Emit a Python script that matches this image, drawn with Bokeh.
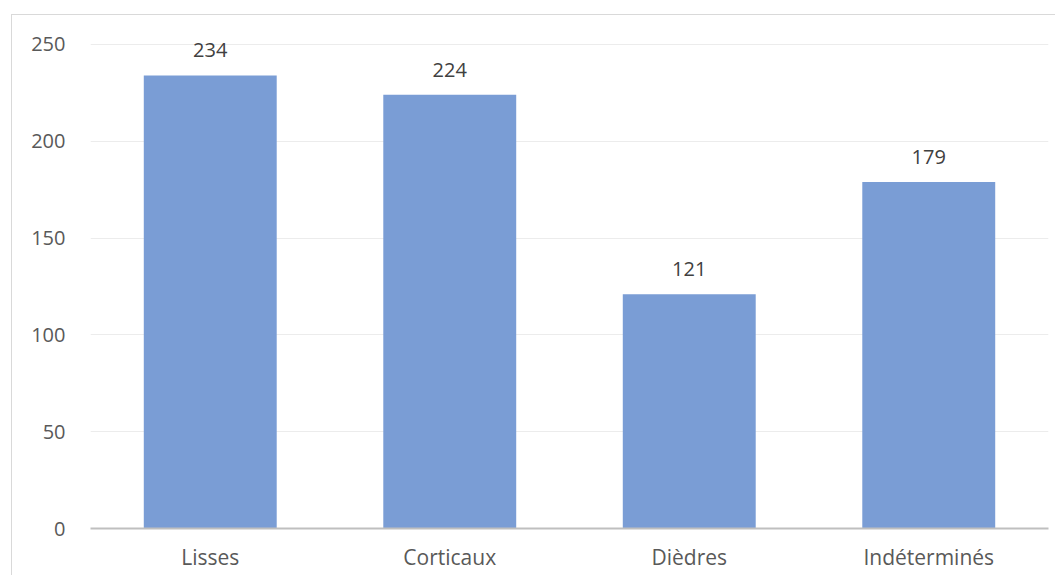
from bokeh.plotting import figure
from bokeh.models import ColumnDataSource, Range1d, FixedTicker
from bokeh.core.properties import value
from bokeh.embed import file_html
from bokeh.resources import INLINE

categories = ["Lisses", "Corticaux", "Dièdres", "Indéterminés"]
counts = [234, 224, 121, 179]
y_ticks = [0, 50, 100, 150, 200, 250]

FONT = "Open Sans"

src = ColumnDataSource(dict(cat=categories, val=counts, lab=[str(v) for v in counts]))

p = figure(x_range=categories, y_range=Range1d(0, 259.8),
           frame_width=958, frame_height=503,
           output_backend="svg", toolbar_location=None,
           min_border_left=78, min_border_right=7, min_border_top=10, min_border_bottom=47)
p.margin = (14, 0, 0, 11)
p.styles = {"border-left": "1px solid #d9d9d9", "border-top": "1px solid #d9d9d9"}
p.outline_line_color = None
p.background_fill_color = "white"
p.border_fill_color = "white"

p.vbar(x="cat", top="val", width=0.555, source=src, fill_color="#7A9DD5",
       line_color=None)
p.text(x="cat", y="val", text="lab", source=src, text_align="center",
       text_baseline="middle", y_offset=-25, text_color="#404040",
       text_font=value(FONT), text_font_size="20px")

p.yaxis.ticker = FixedTicker(ticks=y_ticks)
p.yaxis.axis_line_color = None
p.yaxis.major_tick_line_color = None
p.yaxis.minor_tick_line_color = None
p.yaxis.major_label_standoff = 19
p.yaxis.major_label_text_font = FONT
p.yaxis.major_label_text_font_size = "20px"
p.yaxis.major_label_text_color = "#595959"

p.xaxis.axis_line_color = "#bfbfbf"
p.xaxis.axis_line_width = 2
p.xaxis.major_tick_line_color = None
p.xaxis.minor_tick_line_color = None
p.xaxis.major_label_standoff = 8
p.xaxis.major_label_text_font = FONT
p.xaxis.major_label_text_font_size = "21px"
p.xaxis.major_label_text_color = "#595959"

p.xgrid.grid_line_color = None
p.ygrid.ticker = FixedTicker(ticks=y_ticks)
p.ygrid.grid_line_color = "#ececec"
p.ygrid.grid_line_width = 1

open("out.html", "w").write(file_html(p, INLINE))
